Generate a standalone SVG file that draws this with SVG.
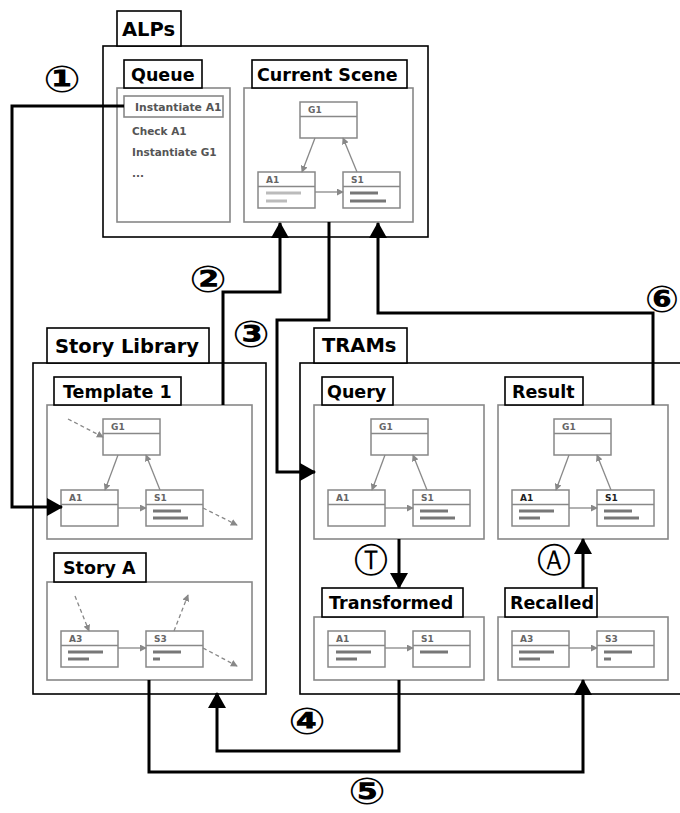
<svg xmlns="http://www.w3.org/2000/svg" width="680" height="813" viewBox="0 0 680 813">
<defs>
<style>
.outer{fill:#fff;stroke:#000;stroke-width:1.6}
.tab{fill:#fff;stroke:#000;stroke-width:1.6}
.panel{fill:#fff;stroke:#888;stroke-width:1.6}
.big{font-family:"DejaVu Sans",sans-serif;font-weight:bold;font-size:19.5px;fill:#000}
.lbl{font-family:"DejaVu Sans",sans-serif;font-weight:bold;font-size:17.5px;fill:#000}
.q{font-family:"DejaVu Sans",sans-serif;font-weight:bold;font-size:10.5px;fill:#555}
.nd{fill:#fff;stroke:#888;stroke-width:1.5}
.nt{font-family:"DejaVu Sans",sans-serif;font-weight:bold;font-size:9px;fill:#666}
.ntb{font-family:"DejaVu Sans",sans-serif;font-weight:bold;font-size:9px;fill:#222}
.bar{stroke:#777;stroke-width:3}
.lbar{stroke:#bbb;stroke-width:3}
.ga{fill:none;stroke:#888;stroke-width:1.3;marker-end:url(#sa)}
.gd{fill:none;stroke:#888;stroke-width:1.3;stroke-dasharray:4,3;marker-end:url(#sa)}
.con{fill:none;stroke:#000;stroke-width:3}
.cn{font-family:"DejaVu Sans",sans-serif;font-weight:bold;font-size:37px;fill:#000}
.cl{font-family:"DejaVu Sans",sans-serif;font-size:34px;fill:#000}
</style>
<marker id="sa" viewBox="0 0 8 8" refX="7" refY="4" markerWidth="7" markerHeight="7" markerUnits="userSpaceOnUse" orient="auto"><path d="M0,0 L8,4 L0,8 z" fill="#888"/></marker>
<marker id="ba" viewBox="0 0 16 18" refX="15" refY="9" markerWidth="16" markerHeight="18" markerUnits="userSpaceOnUse" orient="auto"><path d="M0,0 L16,9 L0,18 z" fill="#000"/></marker>
</defs>

<!-- ALPs -->
<g id="alps">
<rect class="outer" x="103" y="46" width="325" height="191"/>
<rect class="tab" x="117" y="11" width="64" height="35"/>
<text class="big" x="122" y="36">ALPs</text>
</g>
<g id="queue">
<rect class="panel" x="117" y="88" width="113" height="134"/>
<rect class="tab" x="124" y="60" width="78" height="28"/>
<text class="lbl" x="131" y="81">Queue</text>
<rect fill="#fff" stroke="#888" stroke-width="1.6" x="124" y="96" width="99" height="21"/>
<text class="q" x="135" y="110.5" style="font-size:10.8px">Instantiate A1</text>
<text class="q" x="132" y="135">Check A1</text>
<text class="q" x="132" y="156">Instantiate G1</text>
<text class="q" x="132" y="177">...</text>
</g>
<g id="current-scene">
<rect class="panel" x="244" y="88" width="169" height="134"/>
<rect class="tab" x="252" y="60" width="155" height="28"/>
<text class="lbl" x="257" y="81">Current Scene</text>
<rect class="nd" x="300" y="102" width="57" height="36"/><line class="nd" x1="300" y1="116.5" x2="357" y2="116.5"/><text class="nt" x="308" y="113">G1</text>
<rect class="nd" x="258" y="172" width="57" height="36"/><line class="nd" x1="258" y1="186.5" x2="315" y2="186.5"/><text class="nt" x="266" y="183">A1</text>
<line class="lbar" x1="266" y1="193" x2="301" y2="193"/><line class="lbar" x1="266" y1="201" x2="287" y2="201"/>
<rect class="nd" x="343" y="172" width="57" height="36"/><line class="nd" x1="343" y1="186.5" x2="400" y2="186.5"/><text class="nt" x="351" y="183">S1</text>
<line class="bar" x1="350" y1="193" x2="378" y2="193"/><line class="bar" x1="350" y1="201" x2="386" y2="201"/>
<path class="ga" d="M315,138 L302,172"/><path class="ga" d="M357,172 L343,138"/><path class="ga" d="M315,192 L343,192"/>
</g>

<!-- Story Library -->
<g id="story-library">
<rect class="outer" x="33" y="363" width="233" height="331"/>
<rect class="tab" x="47" y="328" width="162" height="35"/>
<text class="big" x="55" y="353">Story Library</text>
</g>
<g id="template1">
<rect class="panel" x="47" y="405" width="205" height="134"/>
<rect class="tab" x="54" y="377" width="127" height="28"/>
<text class="lbl" x="63" y="398">Template 1</text>
<rect class="nd" x="103" y="419" width="57" height="36"/><line class="nd" x1="103" y1="433.5" x2="160" y2="433.5"/><text class="nt" x="111" y="430">G1</text>
<rect class="nd" x="61" y="490" width="57" height="36"/><line class="nd" x1="61" y1="504.5" x2="118" y2="504.5"/><text class="nt" x="69" y="501">A1</text>
<rect class="nd" x="146" y="490" width="57" height="36"/><line class="nd" x1="146" y1="504.5" x2="203" y2="504.5"/><text class="nt" x="154" y="501">S1</text>
<line class="bar" x1="153" y1="511" x2="181" y2="511"/><line class="bar" x1="153" y1="518" x2="188" y2="518"/>
<path class="ga" d="M118,455 L105,490"/><path class="ga" d="M160,490 L146,455"/><path class="ga" d="M118,508 L146,508"/>
<path class="gd" d="M68,419 L103,437"/><path class="gd" d="M203,508 L237,525"/>
</g>
<g id="story-a">
<rect class="panel" x="47" y="582" width="205" height="98"/>
<rect class="tab" x="54" y="553" width="92" height="29"/>
<text class="lbl" x="63" y="574">Story A</text>
<rect class="nd" x="61" y="631" width="57" height="36"/><line class="nd" x1="61" y1="645.5" x2="118" y2="645.5"/><text class="nt" x="69" y="642">A3</text>
<line class="bar" x1="68" y1="652" x2="103" y2="652"/><line class="bar" x1="68" y1="659" x2="89" y2="659"/>
<rect class="nd" x="146" y="631" width="57" height="36"/><line class="nd" x1="146" y1="645.5" x2="203" y2="645.5"/><text class="nt" x="154" y="642">S3</text>
<line class="bar" x1="153" y1="652" x2="181" y2="652"/><line class="bar" x1="153" y1="659" x2="160" y2="659"/>
<path class="ga" d="M118,648 L146,648"/>
<path class="gd" d="M75,596 L89,631"/><path class="gd" d="M174,631 L188,595"/><path class="gd" d="M203,648 L237,666"/>
</g>

<!-- TRAMs -->
<g id="trams">
<rect class="outer" x="300" y="363" width="390" height="331"/>
<rect class="tab" x="314" y="328" width="93" height="35"/>
<text class="big" x="322" y="352">TRAMs</text>
</g>
<g id="query">
<rect class="panel" x="314" y="405" width="170" height="134"/>
<rect class="tab" x="322" y="377" width="71" height="28"/>
<text class="lbl" x="327" y="398">Query</text>
<rect class="nd" x="371" y="419" width="57" height="36"/><line class="nd" x1="371" y1="433.5" x2="428" y2="433.5"/><text class="nt" x="379" y="430">G1</text>
<rect class="nd" x="328" y="490" width="57" height="36"/><line class="nd" x1="328" y1="504.5" x2="385" y2="504.5"/><text class="nt" x="336" y="501">A1</text>
<rect class="nd" x="413" y="490" width="57" height="36"/><line class="nd" x1="413" y1="504.5" x2="470" y2="504.5"/><text class="nt" x="421" y="501">S1</text>
<line class="bar" x1="420" y1="511" x2="448" y2="511"/><line class="bar" x1="420" y1="518" x2="455" y2="518"/>
<path class="ga" d="M385,455 L372,490"/><path class="ga" d="M427,490 L413,455"/><path class="ga" d="M385,508 L413,508"/>
</g>
<g id="result">
<rect class="panel" x="498" y="405" width="170" height="134"/>
<rect class="tab" x="505" y="377" width="78" height="28"/>
<text class="lbl" x="512" y="398">Result</text>
<rect class="nd" x="554" y="419" width="57" height="36"/><line class="nd" x1="554" y1="433.5" x2="611" y2="433.5"/><text class="nt" x="562" y="430">G1</text>
<rect class="nd" x="512" y="490" width="57" height="36"/><line class="nd" x1="512" y1="504.5" x2="569" y2="504.5"/><text class="ntb" x="520" y="501">A1</text>
<line class="bar" x1="519" y1="511" x2="554" y2="511"/><line class="bar" x1="519" y1="518" x2="540" y2="518"/>
<rect class="nd" x="597" y="490" width="57" height="36"/><line class="nd" x1="597" y1="504.5" x2="654" y2="504.5"/><text class="ntb" x="605" y="501">S1</text>
<line class="bar" x1="604" y1="511" x2="632" y2="511"/><line class="bar" x1="604" y1="518" x2="639" y2="518"/>
<path class="ga" d="M569,455 L556,490"/><path class="ga" d="M611,490 L597,455"/><path class="ga" d="M569,508 L597,508"/>
</g>
<g id="transformed">
<rect class="panel" x="314" y="617" width="170" height="63"/>
<rect class="tab" x="322" y="588" width="141" height="29"/>
<text class="lbl" x="329" y="609">Transformed</text>
<rect class="nd" x="328" y="631" width="57" height="36"/><line class="nd" x1="328" y1="645.5" x2="385" y2="645.5"/><text class="nt" x="336" y="642">A1</text>
<line class="bar" x1="336" y1="652" x2="371" y2="652"/><line class="bar" x1="336" y1="659" x2="357" y2="659"/>
<rect class="nd" x="413" y="631" width="57" height="36"/><line class="nd" x1="413" y1="645.5" x2="470" y2="645.5"/><text class="nt" x="421" y="642">S1</text>
<line class="bar" x1="420" y1="652" x2="448" y2="652"/>
<path class="ga" d="M385,648 L413,648"/>
</g>
<g id="recalled">
<rect class="panel" x="498" y="617" width="170" height="63"/>
<rect class="tab" x="505" y="588" width="92" height="29"/>
<text class="lbl" x="510" y="609">Recalled</text>
<rect class="nd" x="512" y="631" width="57" height="36"/><line class="nd" x1="512" y1="645.5" x2="569" y2="645.5"/><text class="nt" x="520" y="642">A3</text>
<line class="bar" x1="519" y1="652" x2="554" y2="652"/><line class="bar" x1="519" y1="659" x2="540" y2="659"/>
<rect class="nd" x="597" y="631" width="57" height="36"/><line class="nd" x1="597" y1="645.5" x2="654" y2="645.5"/><text class="nt" x="605" y="642">S3</text>
<line class="bar" x1="604" y1="652" x2="632" y2="652"/><line class="bar" x1="604" y1="659" x2="611" y2="659"/>
<path class="ga" d="M569,648 L597,648"/>
</g>

<!-- connectors -->
<g id="connectors">
<path class="con" d="M124,106 H12 V507 H62" marker-end="url(#ba)"/>
<path class="con" d="M223,405 V292 H280 V223" marker-end="url(#ba)"/>
<path class="con" d="M329,222 V320 H277 V472 H315" marker-end="url(#ba)"/>
<path class="con" d="M653,405 V313 H378 V223" marker-end="url(#ba)"/>
<path class="con" d="M399,539 V588" marker-end="url(#ba)"/>
<path class="con" d="M583,588 V539" marker-end="url(#ba)"/>
<path class="con" d="M399,680 V751 H217 V693" marker-end="url(#ba)"/>
<path class="con" d="M149,680 V772 H583 V680" marker-end="url(#ba)"/>
<text class="cn" transform="translate(62,92) scale(1.2,1)" text-anchor="middle">①</text>
<text class="cn" transform="translate(208,292) scale(1.2,1)" text-anchor="middle">②</text>
<text class="cn" transform="translate(251,347) scale(1.2,1)" text-anchor="middle">③</text>
<text class="cn" transform="translate(307,734) scale(1.2,1)" text-anchor="middle">④</text>
<text class="cn" transform="translate(367,804) scale(1.2,1)" text-anchor="middle">⑤</text>
<text class="cn" transform="translate(662,312) scale(1.1,1)" text-anchor="middle">⑥</text>
<text class="cl" x="371" y="572" text-anchor="middle">Ⓣ</text>
<text class="cl" x="554" y="572" text-anchor="middle">Ⓐ</text>
</g>
</svg>
